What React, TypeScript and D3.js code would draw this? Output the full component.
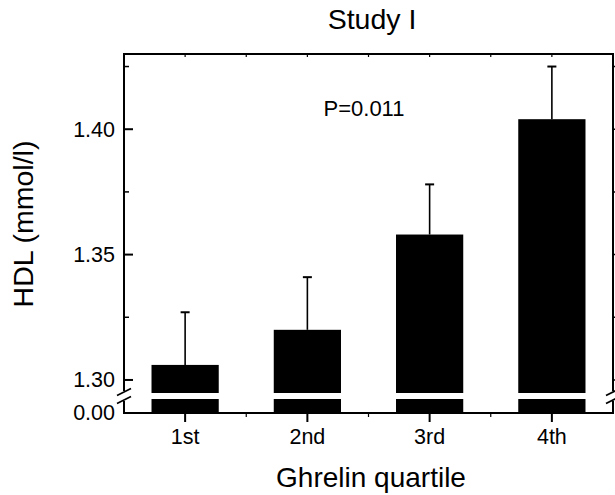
import React, { useEffect, useRef } from 'react';
import * as d3 from 'd3';

const quartiles = ['1st', '2nd', '3rd', '4th'];
const hdlMeans = [1.306, 1.320, 1.358, 1.404];
const hdlErrTops = [1.327, 1.341, 1.378, 1.425];
const majorTicks = [1.30, 1.35, 1.40];
const minorTicks = [1.325, 1.375, 1.425];

const W = 615;
const H = 495;
const FONT = '"Liberation Sans", Arial, Helvetica, sans-serif';

export default function App() {
  const ref = useRef<SVGSVGElement | null>(null);

  useEffect(() => {
    const svg = d3.select(ref.current);
    svg.selectAll('*').remove();

    const left = 124, right = 613, top = 54, bottom = 413;
    const breakTop = 393, breakBot = 399; // 轴断开的位置

    const x = d3.scaleBand<string>()
      .domain(quartiles)
      .range([left, right])
      .paddingInner(0.45)
      .paddingOuter(0.225);

    // 上半段 y 轴
    const y = d3.scaleLinear().domain([1.2948, 1.43]).range([breakTop, top]);
    // 下半段 y 轴 (只有 0.00)
    const y0 = d3.scaleLinear().domain([0, 0.01]).range([bottom, breakBot]);

    const g = svg.append('g');

    // bars, upper part
    g.selectAll('.bar-up')
      .data(hdlMeans)
      .enter().append('rect')
      .attr('x', (d, i) => x(quartiles[i]) as number)
      .attr('width', x.bandwidth())
      .attr('y', (d) => y(d))
      .attr('height', (d) => breakTop - y(d))
      .attr('fill', '#000');

    // bars, lower part
    g.selectAll('.bar-down')
      .data(hdlMeans)
      .enter().append('rect')
      .attr('x', (d, i) => x(quartiles[i]) as number)
      .attr('width', x.bandwidth())
      .attr('y', y0(0.01))
      .attr('height', y0(0) - y0(0.01))
      .attr('fill', '#000');

    // error bars
    const err = g.selectAll('.err')
      .data(hdlErrTops)
      .enter().append('g');
    err.append('line')
      .attr('x1', (d, i) => (x(quartiles[i]) as number) + x.bandwidth() / 2)
      .attr('x2', (d, i) => (x(quartiles[i]) as number) + x.bandwidth() / 2)
      .attr('y1', (d, i) => y(hdlMeans[i]))
      .attr('y2', (d) => y(d))
      .attr('stroke', '#000')
      .attr('stroke-width', 1.6);
    err.append('line')
      .attr('x1', (d, i) => (x(quartiles[i]) as number) + x.bandwidth() / 2 - 4.5)
      .attr('x2', (d, i) => (x(quartiles[i]) as number) + x.bandwidth() / 2 + 4.5)
      .attr('y1', (d) => y(d))
      .attr('y2', (d) => y(d))
      .attr('stroke', '#000')
      .attr('stroke-width', 2);

    // frame
    const frame = g.append('g').attr('stroke', '#000').attr('stroke-width', 2).attr('fill', 'none');
    frame.append('line').attr('x1', left - 1).attr('x2', right + 1).attr('y1', top).attr('y2', top);
    frame.append('line').attr('x1', left - 1).attr('x2', right + 1).attr('y1', bottom).attr('y2', bottom);
    [left, right].forEach((xx) => {
      frame.append('line').attr('x1', xx).attr('x2', xx).attr('y1', top).attr('y2', breakTop - 2);
      frame.append('line').attr('x1', xx).attr('x2', xx).attr('y1', breakBot + 2).attr('y2', bottom);
      // 断轴标记
      [breakTop - 1, breakBot + 1].forEach((yy) => {
        frame.append('line')
          .attr('x1', xx - 7).attr('y1', yy + 3.5)
          .attr('x2', xx + 7).attr('y2', yy - 3.5)
          .attr('stroke-width', 1.8);
      });
    });

    // left ticks (inward)
    g.selectAll('.ytick')
      .data(majorTicks)
      .enter().append('line')
      .attr('x1', left).attr('x2', left + 9)
      .attr('y1', (d) => y(d)).attr('y2', (d) => y(d))
      .attr('stroke', '#000').attr('stroke-width', 2);
    g.selectAll('.yminor')
      .data(minorTicks)
      .enter().append('line')
      .attr('x1', left).attr('x2', left + 5)
      .attr('y1', (d) => y(d)).attr('y2', (d) => y(d))
      .attr('stroke', '#000').attr('stroke-width', 1.5);
    // right ticks (outward)
    g.selectAll('.rtick')
      .data(majorTicks.concat(minorTicks))
      .enter().append('line')
      .attr('x1', right).attr('x2', right + 4)
      .attr('y1', (d) => y(d)).attr('y2', (d) => y(d))
      .attr('stroke', '#000').attr('stroke-width', 1.5);

    g.selectAll('.ylabel')
      .data(majorTicks)
      .enter().append('text')
      .attr('x', left - 9)
      .attr('y', (d) => y(d) + 7.5)
      .attr('text-anchor', 'end')
      .attr('font-family', FONT)
      .attr('font-size', 21.5)
      .text((d) => d3.format('.2f')(d));
    g.append('text')
      .attr('x', left - 9)
      .attr('y', y0(0) + 7)
      .attr('text-anchor', 'end')
      .attr('font-family', FONT)
      .attr('font-size', 21.5)
      .text('0.00');

    // bottom ticks
    const step = x.step();
    const centers = quartiles.map((q) => (x(q) as number) + x.bandwidth() / 2);
    const mids = centers.slice(0, -1).map((c) => c + step / 2);
    g.selectAll('.xtick')
      .data(centers)
      .enter().append('line')
      .attr('x1', (d) => d).attr('x2', (d) => d)
      .attr('y1', bottom).attr('y2', bottom + 9)
      .attr('stroke', '#000').attr('stroke-width', 2);
    g.selectAll('.xminor')
      .data(mids)
      .enter().append('line')
      .attr('x1', (d) => d).attr('x2', (d) => d)
      .attr('y1', bottom).attr('y2', bottom + 4)
      .attr('stroke', '#000').attr('stroke-width', 1.2);
    g.selectAll('.topminor')
      .data(centers.concat(mids))
      .enter().append('line')
      .attr('x1', (d) => d).attr('x2', (d) => d)
      .attr('y1', top).attr('y2', top + 3)
      .attr('stroke', '#000').attr('stroke-width', 1.2);

    g.selectAll('.xlabel')
      .data(quartiles)
      .enter().append('text')
      .attr('x', (d) => (x(d) as number) + x.bandwidth() / 2)
      .attr('y', 444)
      .attr('text-anchor', 'middle')
      .attr('font-family', FONT)
      .attr('font-size', 21.5)
      .text((d) => d);

    // titles
    svg.append('text')
      .attr('x', 372).attr('y', 29)
      .attr('text-anchor', 'middle')
      .attr('font-family', FONT)
      .attr('font-size', 28.5)
      .text('Study I');
    svg.append('text')
      .attr('x', 371).attr('y', 487)
      .attr('text-anchor', 'middle')
      .attr('font-family', FONT)
      .attr('font-size', 28)
      .text('Ghrelin quartile');
    svg.append('text')
      .attr('transform', 'translate(33,224) rotate(-90)')
      .attr('text-anchor', 'middle')
      .attr('font-family', FONT)
      .attr('font-size', 28.5)
      .text('HDL (mmol/l)');
    svg.append('text')
      .attr('x', 364).attr('y', 116)
      .attr('text-anchor', 'middle')
      .attr('font-family', FONT)
      .attr('font-size', 22)
      .text('P=0.011');
  }, []);

  return (
    <svg
      ref={ref}
      width={W}
      height={H}
      style={{ position: 'absolute', left: 0, top: 0, background: '#fff' }}
    />
  );
}
